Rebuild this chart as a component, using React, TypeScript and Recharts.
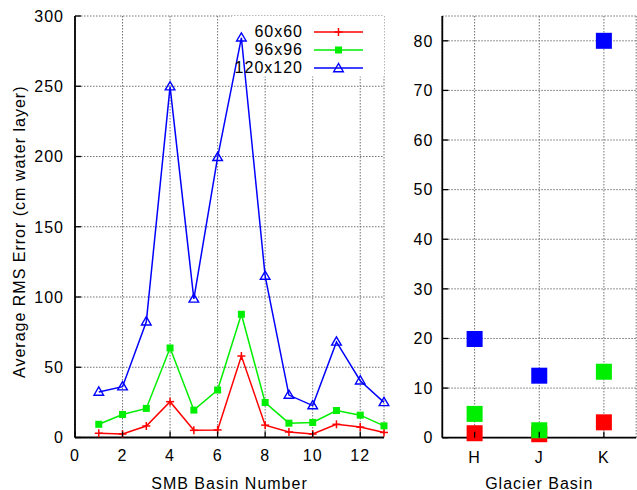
import React from "react";
import {
  LineChart,
  Line,
  ScatterChart,
  Scatter,
  XAxis,
  YAxis,
  CartesianGrid,
  Legend,
  ReferenceArea,
  Label,
} from "recharts";

// SMB basins 1..13, average RMS error (cm water layer) per grid resolution
const basinNumbers = [1, 2, 3, 4, 5, 6, 7, 8, 9, 10, 11, 12, 13];
const rms60 = [3.0, 2.5, 8.2, 25.5, 5.1, 5.4, 58.0, 8.8, 3.9, 2.5, 9.4, 7.4, 3.6];
const rms96 = [9.4, 16.4, 20.7, 63.7, 19.5, 33.8, 87.7, 24.9, 10.2, 10.7, 19.2, 15.9, 8.3];
const rms120 = [32.4, 36.2, 82.4, 249.7, 98.6, 199.4, 284.5, 114.9, 30.2, 22.7, 68.0, 40.4, 25.0];

// Glacier basins
const glacierBasins = ["H", "J", "K"];
const glacier60 = [0.9, 0.7, 3.1];
const glacier96 = [4.8, 1.5, 13.3];
const glacier120 = [19.9, 12.5, 80.0];

const basinTicks = [0, 2, 4, 6, 8, 10, 12];
const rmsTicks = [0, 50, 100, 150, 200, 250, 300];
const glacierTicks = [0, 10, 20, 30, 40, 50, 60, 70, 80];

const seriesNames = ["60x60", "96x96", "120x120"];
const RED = "#ff0000";
const GREEN = "#00ee00";
const BLUE = "#0000ff";

const FONT = "'Liberation Sans', Arial, Helvetica, sans-serif";
const textStyle = { fontFamily: FONT, fontSize: 16, letterSpacing: 1, fill: "#000" };
const TICK_LEN = 6;
const GRID = "#707070";
const FRAME = { stroke: "#000", strokeWidth: 1.8 };

const smbTable = basinNumbers.map((b, i) => ({
  basin: b,
  r60: rms60[i],
  r96: rms96[i],
  r120: rms120[i],
}));

const glacierPoints = (vals: number[]) =>
  glacierBasins.map((_, i) => ({ pos: i + 0.5, value: vals[i] }));

// ---- markers ----
function PlusMark({ cx, cy, color }: { cx: number; cy: number; color: string }) {
  return (
    <g stroke={color} strokeWidth={1.5}>
      <line x1={cx - 4} x2={cx + 4} y1={cy} y2={cy} />
      <line x1={cx} x2={cx} y1={cy - 4} y2={cy + 4} />
    </g>
  );
}
function SquareMark({ cx, cy, color, size }: { cx: number; cy: number; color: string; size: number }) {
  return <rect x={cx - size / 2} y={cy - size / 2} width={size} height={size} fill={color} />;
}
function TriangleMark({ cx, cy, color }: { cx: number; cy: number; color: string }) {
  const pts = `${cx},${cy - 5} ${cx - 4.8},${cy + 3.2} ${cx + 4.8},${cy + 3.2}`;
  return <polygon points={pts} fill="none" stroke={color} strokeWidth={1.4} />;
}

// ---- axis ticks (drawn inward, gnuplot style) ----
function BottomTick(props: any) {
  const { x, y, payload, margin, format } = props;
  const axisY = y - margin;
  return (
    <g>
      <line x1={x} x2={x} y1={axisY} y2={axisY - TICK_LEN} stroke="#000" strokeWidth={1.3} />
      <text x={x} y={y} dy="0.71em" textAnchor="middle" style={textStyle}>
        {format ? format(payload.value) : payload.value}
      </text>
    </g>
  );
}
function TopTick(props: any) {
  const { x, y } = props;
  return <line x1={x} x2={x} y1={y} y2={y + TICK_LEN} stroke="#000" strokeWidth={1.3} />;
}
function LeftTick(props: any) {
  const { x, y, payload, margin } = props;
  const axisX = x + margin;
  return (
    <g>
      <line x1={axisX} x2={axisX + TICK_LEN} y1={y} y2={y} stroke="#000" strokeWidth={1.3} />
      <text x={x} y={y} dy="0.36em" textAnchor="end" style={textStyle}>
        {payload.value}
      </text>
    </g>
  );
}
function RightTick(props: any) {
  const { x, y } = props;
  return <line x1={x} x2={x - TICK_LEN} y1={y} y2={y} stroke="#000" strokeWidth={1.3} />;
}

function SmbLegend() {
  const rows = [
    { name: seriesNames[0], color: RED, kind: "plus" },
    { name: seriesNames[1], color: GREEN, kind: "square" },
    { name: seriesNames[2], color: BLUE, kind: "triangle" },
  ];
  return (
    <div>
      {rows.map((r) => (
        <div key={r.name} style={{ display: "flex", alignItems: "center", height: 18 }}>
          <span
            style={{
              width: 74,
              textAlign: "right",
              fontFamily: FONT,
              fontSize: 16,
              letterSpacing: 1,
              color: "#000",
              lineHeight: "18px",
            }}
          >
            {r.name}
          </span>
          <svg width={60} height={18} style={{ marginLeft: 10 }}>
            <line x1={1} x2={50} y1={9} y2={9} stroke={r.color} strokeWidth={1.5} />
            {r.kind === "plus" && <PlusMark cx={25.5} cy={9} color={r.color} />}
            {r.kind === "square" && <SquareMark cx={25.5} cy={9} color={r.color} size={7} />}
            {r.kind === "triangle" && <TriangleMark cx={25.5} cy={9.5} color={r.color} />}
          </svg>
        </div>
      ))}
    </div>
  );
}

function YTitle(props: any) {
  const vb = props.viewBox;
  const cx = vb.x + 19;
  const cy = vb.y + vb.height / 2 + 5;
  return (
    <text
      x={cx}
      y={cy}
      transform={`rotate(-90 ${cx} ${cy})`}
      textAnchor="middle"
      dy="0.36em"
      style={textStyle}
    >
      Average RMS Error (cm water layer)
    </text>
  );
}

function XTitle(text: string) {
  return (props: any) => {
    const vb = props.viewBox;
    return (
      <text x={vb.x + vb.width / 2} y={vb.y + vb.height - 1.5} textAnchor="middle" style={textStyle}>
        {text}
      </text>
    );
  };
}

function SmbChart() {
  return (
    <LineChart
      width={400}
      height={490}
      data={smbTable}
      margin={{ top: 16, right: 16, bottom: 0, left: 0 }}
    >
      <CartesianGrid stroke={GRID} strokeDasharray="1.5 1.5" />
      <ReferenceArea x1={6.6} x2={13} y1={257} y2={300} fill="#fff" fillOpacity={1} stroke="none" />
      <XAxis
        dataKey="basin"
        type="number"
        domain={[0, 13]}
        ticks={basinTicks}
        interval={0}
        height={52.5}
        tickSize={0}
        tickMargin={12}
        tickLine={false}
        axisLine={FRAME}
        tick={(p: any) => <BottomTick {...p} margin={12} />}
      >
        <Label content={XTitle("SMB Basin Number")} />
      </XAxis>
      <XAxis
        xAxisId="top"
        orientation="top"
        dataKey="basin"
        type="number"
        domain={[0, 13]}
        ticks={basinTicks}
        interval={0}
        height={0}
        tickSize={0}
        tickMargin={0}
        tickLine={false}
        axisLine={FRAME}
        tick={(p: any) => <TopTick {...p} />}
      />
      <YAxis
        type="number"
        domain={[0, 300]}
        ticks={rmsTicks}
        interval={0}
        width={75}
        tickSize={0}
        tickMargin={11}
        tickLine={false}
        axisLine={FRAME}
        tick={(p: any) => <LeftTick {...p} margin={11} />}
      >
        <Label content={YTitle} />
      </YAxis>
      <YAxis
        yAxisId="right"
        orientation="right"
        type="number"
        domain={[0, 300]}
        ticks={rmsTicks}
        interval={0}
        width={0}
        tickSize={0}
        tickMargin={0}
        tickLine={false}
        axisLine={FRAME}
        tick={(p: any) => <RightTick {...p} />}
      />
      <Line
        dataKey="r60"
        name={seriesNames[0]}
        stroke={RED}
        strokeWidth={1.5}
        isAnimationActive={false}
        dot={(p: any) => <PlusMark key={`a${p.index}`} cx={p.cx} cy={p.cy} color={RED} />}
      />
      <Line
        dataKey="r96"
        name={seriesNames[1]}
        stroke={GREEN}
        strokeWidth={1.5}
        isAnimationActive={false}
        dot={(p: any) => <SquareMark key={`b${p.index}`} cx={p.cx} cy={p.cy} color={GREEN} size={7} />}
      />
      <Line
        dataKey="r120"
        name={seriesNames[2]}
        stroke={BLUE}
        strokeWidth={1.5}
        isAnimationActive={false}
        dot={(p: any) => <TriangleMark key={`c${p.index}`} cx={p.cx} cy={p.cy} color={BLUE} />}
      />
      <Legend
        layout="vertical"
        align="center"
        verticalAlign="middle"
        content={() => <SmbLegend />}
        wrapperStyle={{ position: "absolute", left: 229, top: 23, width: 150, height: 54 }}
      />
    </LineChart>
  );
}

function GlacierChart() {
  const square = (color: string) => (p: any) =>
    <SquareMark cx={p.cx} cy={p.cy} color={color} size={16} />;
  return (
    <ScatterChart width={237} height={490} margin={{ top: 16, right: 0.8, bottom: 0, left: 0 }}>
      <CartesianGrid stroke={GRID} strokeDasharray="1.5 1.5" />
      <XAxis
        dataKey="pos"
        type="number"
        domain={[0, 3]}
        ticks={[0.5, 1.5, 2.5]}
        interval={0}
        height={52.3}
        tickSize={0}
        tickMargin={14}
        tickLine={false}
        axisLine={FRAME}
        tick={(p: any) => (
          <BottomTick {...p} margin={14} format={(v: number) => glacierBasins[Math.floor(v)]} />
        )}
      >
        <Label content={XTitle("Glacier Basin")} />
      </XAxis>
      <XAxis
        xAxisId="top"
        orientation="top"
        dataKey="pos"
        type="number"
        domain={[0, 3]}
        ticks={[0.5, 1.5, 2.5]}
        interval={0}
        height={0}
        tickSize={0}
        tickMargin={0}
        tickLine={false}
        axisLine={FRAME}
        tick={(p: any) => <TopTick {...p} />}
      />
      <YAxis
        dataKey="value"
        type="number"
        domain={[0, 85]}
        ticks={glacierTicks}
        interval={0}
        width={42.3}
        tickSize={0}
        tickMargin={9}
        tickLine={false}
        axisLine={FRAME}
        tick={(p: any) => <LeftTick {...p} margin={9} />}
      />
      <YAxis
        yAxisId="right"
        orientation="right"
        dataKey="value"
        type="number"
        domain={[0, 85]}
        ticks={glacierTicks}
        interval={0}
        width={0}
        tickSize={0}
        tickMargin={0}
        tickLine={false}
        axisLine={FRAME}
        tick={(p: any) => <RightTick {...p} />}
      />
      <Scatter name={seriesNames[0]} data={glacierPoints(glacier60)} shape={square(RED)} isAnimationActive={false} />
      <Scatter name={seriesNames[1]} data={glacierPoints(glacier96)} shape={square(GREEN)} isAnimationActive={false} />
      <Scatter name={seriesNames[2]} data={glacierPoints(glacier120)} shape={square(BLUE)} isAnimationActive={false} />
    </ScatterChart>
  );
}

export default function App() {
  return (
    <div style={{ position: "absolute", left: 0, top: 0, width: 637, height: 490, background: "#fff", overflow: "hidden" }}>
      <div style={{ position: "absolute", left: 0, top: 0 }}>
        <SmbChart />
      </div>
      <div style={{ position: "absolute", left: 400, top: 0 }}>
        <GlacierChart />
      </div>
    </div>
  );
}
